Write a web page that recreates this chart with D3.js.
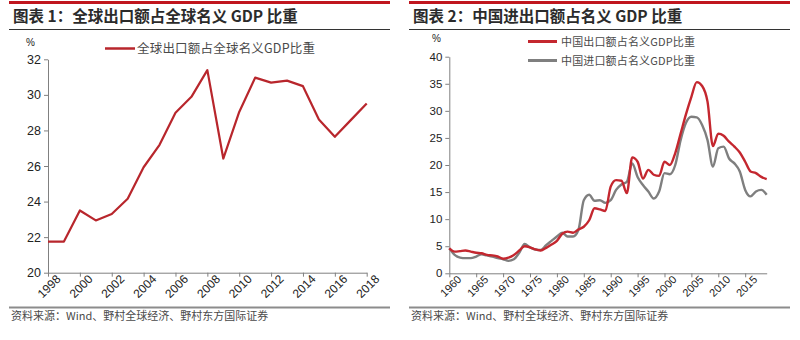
<!DOCTYPE html>
<html>
<head>
<meta charset="utf-8">
<script src="https://cdn.jsdelivr.net/npm/d3@7"></script>
<style>
  html, body { margin: 0; padding: 0; background: #fff; }
  svg { display: block; }
  .title { font-family: "Noto Sans CJK SC", sans-serif; font-weight: 700; fill: #2b2b2b; }
  .legend, .source { font-family: "Noto Sans CJK SC", sans-serif; fill: #4a4a4a; }
  .axis text { font-family: "Liberation Sans", Arial, sans-serif; fill: #222; }
  .axis path, .axis line { stroke: #808080; }
</style>
</head>
<body>
<svg id="chart" width="800" height="340"></svg>
<script>
// Panel 1: world exports as a share of world nominal GDP (%)
const worldYears = d3.range(1998, 2019);
const worldExportShare = [21.75, 21.75, 23.5, 22.94, 23.3, 24.16, 25.93, 27.19, 28.99, 29.89, 31.39,
  26.42, 29.04, 30.97, 30.69, 30.8, 30.49, 28.62, 27.64, 28.58, 29.52];
const worldYTicks = [20, 22, 24, 26, 28, 30, 32];
const worldXTicks = d3.range(1998, 2019, 2);

// Panel 2: China exports and imports as a share of nominal GDP (%)
const chinaYears = d3.range(1960, 2020);
const chinaExportShare = [
  4.6, 4.0, 4.1, 4.2, 4.0, 3.8, 3.7, 3.4, 3.3, 3.1,
  2.7, 2.9, 3.4, 4.2, 5.0, 4.8, 4.4, 4.2, 4.7, 5.3,
  6.0, 7.3, 7.7, 7.5, 8.1, 8.6, 9.8, 12.0, 11.8, 11.5,
  16.0, 17.2, 17.1, 14.8, 21.4, 20.6, 17.5, 19.1, 18.2, 18.0,
  20.6, 20.0, 22.2, 25.8, 29.4, 32.6, 35.3, 34.6, 31.7, 23.5,
  25.8, 25.4, 24.3, 23.4, 22.3, 20.6, 18.8, 18.5, 17.8, 17.4];
const chinaImportShare = [
  4.6, 3.4, 2.9, 2.8, 2.8, 3.1, 3.5, 3.3, 3.1, 2.8,
  2.6, 2.3, 2.6, 3.8, 5.4, 4.8, 4.4, 4.3, 5.2, 6.0,
  6.8, 7.5, 6.8, 6.8, 8.0, 13.5, 14.5, 13.4, 13.5, 13.0,
  13.5, 15.4, 16.4, 16.9, 20.3, 17.8, 16.3, 15.1, 13.8, 15.1,
  18.5, 18.3, 20.0, 24.6, 27.8, 28.9, 28.8, 27.4, 24.6, 19.7,
  23.1, 23.4, 21.2, 20.3, 18.8, 15.4, 14.2, 15.1, 15.4, 14.5];
const chinaYTicks = d3.range(0, 41, 5);
const chinaXTicks = d3.range(1960, 2016, 5);

const titles = ["图表 1：全球出口额占全球名义 GDP 比重", "图表 2：中国进出口额占名义 GDP 比重"];
const legendWorld = ["全球出口额占全球名义GDP比重"];
const legendChina = ["中国出口额占名义GDP比重", "中国进口额占名义GDP比重"];
const sourceText = "资料来源：Wind、野村全球经济、野村东方国际证券";

const RED = "#b8262c";
const RED2 = "#c4272f";
const GREY = "#7f7f7f";

const svg = d3.select("#chart");

// Frame for each panel: red top rule, title, thin rule, bottom grey rule, source note
function frame(x0, x1, title) {
  svg.append("rect").attr("x", x0).attr("y", 1).attr("width", x1 - x0).attr("height", 3).attr("fill", "#c0161e");
  svg.append("text").attr("class", "title").attr("x", x0 + 4).attr("y", 21.5)
    .attr("font-size", 15.5).text(title);
  svg.append("line").attr("x1", x0).attr("x2", x1).attr("y1", 29.5).attr("y2", 29.5)
    .attr("stroke", "#333").attr("stroke-width", 1);
  svg.append("line").attr("x1", x0).attr("x2", x1).attr("y1", 307.5).attr("y2", 307.5)
    .attr("stroke", "#8c8c8c").attr("stroke-width", 2);
  svg.append("text").attr("class", "source").attr("x", x0 + 2).attr("y", 320)
    .attr("font-size", 11).text(sourceText);
}
frame(9, 390, titles[0]);
frame(409, 790, titles[1]);

// ---- Panel 1 ----
const x1 = d3.scaleLinear().domain([1998, 2018]).range([48, 366.7]);
const y1 = d3.scaleLinear().domain([20, 32]).range([272.7, 59.3]);

const gy1 = svg.append("g").attr("class", "axis").attr("transform", "translate(48,0)")
  .call(d3.axisLeft(y1).tickValues(worldYTicks).tickSize(4).tickSizeOuter(0).tickPadding(3));
gy1.selectAll("text").attr("font-size", 12.5);

const gx1 = svg.append("g").attr("class", "axis").attr("transform", "translate(0,272.7)")
  .call(d3.axisBottom(x1).tickValues(worldXTicks).tickFormat(d3.format("d")).tickSize(4).tickSizeOuter(0));
gx1.selectAll("text").attr("font-size", 12)
  .attr("text-anchor", "end").attr("dx", "0.35em").attr("dy", "0.6em")
  .attr("transform", "rotate(-45)");

svg.append("text").attr("class", "axis").attr("x", 26).attr("y", 46)
  .attr("font-family", "Liberation Sans, Arial, sans-serif").attr("font-size", 10).attr("fill", "#222").text("%");

svg.append("path").datum(worldYears.map((yr, i) => [yr, worldExportShare[i]]))
  .attr("fill", "none").attr("stroke", RED).attr("stroke-width", 2.2).attr("stroke-linejoin", "round")
  .attr("d", d3.line().x(d => x1(d[0])).y(d => y1(d[1])));

svg.append("line").attr("x1", 105).attr("x2", 135).attr("y1", 48.5).attr("y2", 48.5)
  .attr("stroke", RED).attr("stroke-width", 2.5);
svg.append("text").attr("class", "legend").attr("x", 137).attr("y", 53)
  .attr("font-size", 12.5).attr("textLength", 178).text(legendWorld[0]);

// ---- Panel 2 ----
const x2 = d3.scaleLinear().domain([1960, 2019]).range([449.3, 766.7]);
const y2 = d3.scaleLinear().domain([0, 40]).range([273.3, 56.7]);

const gy2 = svg.append("g").attr("class", "axis").attr("transform", "translate(449.3,0)")
  .call(d3.axisLeft(y2).tickValues(chinaYTicks).tickSize(4).tickSizeOuter(0).tickPadding(3));
gy2.selectAll("text").attr("font-size", 11.5);

const gx2 = svg.append("g").attr("class", "axis").attr("transform", "translate(0,273.3)")
  .call(d3.axisBottom(x2).tickValues(chinaXTicks).tickFormat(d3.format("d")).tickSize(4).tickSizeOuter(0));
gx2.selectAll("text").attr("font-size", 11)
  .attr("text-anchor", "end").attr("dx", "0.35em").attr("dy", "0.6em")
  .attr("transform", "rotate(-45)");

svg.append("text").attr("x", 432).attr("y", 42)
  .attr("font-family", "Liberation Sans, Arial, sans-serif").attr("font-size", 10).attr("fill", "#222").text("%");

const line2 = d3.line().x(d => x2(d[0])).y(d => y2(d[1])).curve(d3.curveMonotoneX);
svg.append("path").datum(chinaYears.map((yr, i) => [yr, chinaImportShare[i]]))
  .attr("fill", "none").attr("stroke", GREY).attr("stroke-width", 2.4).attr("stroke-linejoin", "round")
  .attr("d", line2);
svg.append("path").datum(chinaYears.map((yr, i) => [yr, chinaExportShare[i]]))
  .attr("fill", "none").attr("stroke", RED2).attr("stroke-width", 2.4).attr("stroke-linejoin", "round")
  .attr("d", line2);

[[RED2, 41.5], [GREY, 60.5]].forEach(([c, yy], i) => {
  svg.append("line").attr("x1", 528).attr("x2", 557).attr("y1", yy).attr("y2", yy)
    .attr("stroke", c).attr("stroke-width", 3);
  svg.append("text").attr("class", "legend").attr("x", 561).attr("y", yy + 4)
    .attr("font-size", 11).attr("textLength", 134).text(legendChina[i]);
});
</script>
</body>
</html>
